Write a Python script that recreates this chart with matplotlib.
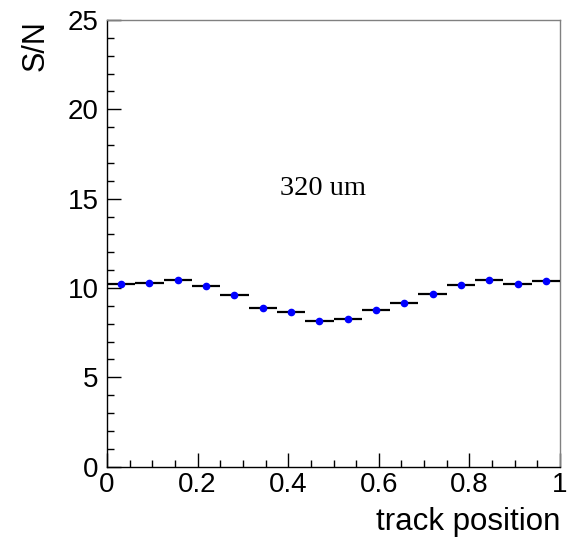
import numpy as np
import matplotlib
matplotlib.use('Agg')
import matplotlib.pyplot as plt
from matplotlib.ticker import MultipleLocator

# 16 bins over the track position, S/N per bin
n_bins = 16
bin_edges = np.linspace(0, 1, n_bins + 1)
sn_values = [10.24, 10.28, 10.43, 10.13, 9.59, 8.86, 8.64, 8.17,
             8.28, 8.75, 9.14, 9.66, 10.15, 10.45, 10.21, 10.39]
label_text = '320 um'

plt.rcParams['font.family'] = ['Liberation Sans', 'DejaVu Sans']

centers = 0.5 * (bin_edges[:-1] + bin_edges[1:])
half_width = 0.5 * np.diff(bin_edges)

fig = plt.figure(figsize=(5.75, 5.38), dpi=100)
ax = fig.add_axes([0.186, 0.1325, 0.788, 0.8305])

ax.errorbar(centers, sn_values, xerr=half_width, fmt='o', color='blue',
            markersize=4.5, ecolor='black', elinewidth=1.6, capsize=0, zorder=3)

ax.set_xlim(0, 1)
ax.set_ylim(0, 25)
ax.xaxis.set_major_locator(MultipleLocator(0.2))
ax.xaxis.set_minor_locator(MultipleLocator(0.05))
ax.yaxis.set_major_locator(MultipleLocator(5))
ax.yaxis.set_minor_locator(MultipleLocator(1))
ax.xaxis.set_major_formatter(plt.FuncFormatter(lambda v, p: '%g' % v))

ax.tick_params(which='both', direction='in', top=False, right=False,
               labelsize=20, width=1)
ax.tick_params(which='major', length=10)
ax.tick_params(which='minor', length=5)
ax.tick_params(axis='x', which='major', pad=4)
ax.tick_params(axis='y', which='major', pad=6)

for s in ['top', 'right']:
    ax.spines[s].set_color('#808080')
for s in ax.spines.values():
    s.set_linewidth(1)

ax.set_xlabel('track position', fontsize=22.5, ha='right', va='top')
ax.xaxis.set_label_coords(1.0, -0.091)
ax.set_ylabel('S/N', fontsize=22, ha='right', va='center')
ax.yaxis.set_label_coords(-0.158, 1.0)

ax.text(0.477, 15.55, label_text, ha='center', va='center',
        fontsize=20.5, family='Liberation Serif')

fig.savefig('out.png', dpi=100)
